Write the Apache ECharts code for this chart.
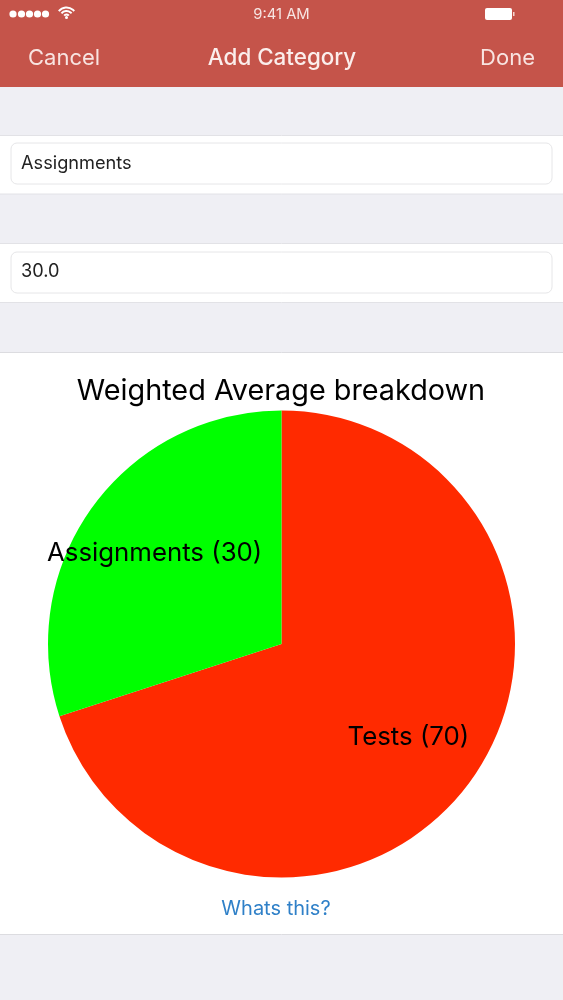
<!DOCTYPE html>
<html><head><meta charset="utf-8">
<style>html,body{margin:0;padding:0;background:#efeff4}#c{width:563px;height:1000px}</style>
<script src="https://cdn.jsdelivr.net/npm/echarts@6/dist/echarts.min.js"></script>
</head><body><div id="c"></div>
<script>
const categories = ['Tests', 'Assignments'];
const values = [70, 30];
const sliceColors = ['#ff2a00', '#00ff00'];
const labelShift = [[30, 23], [-30, -20]];
const chartTitle = 'Weighted Average breakdown';
const F = 'Inter, Roboto, sans-serif';

const txt = (x, y, text, size, fill, align, weight) => ({type:'text', x, y, silent:true,
  style:{text, fontSize:size, fontFamily:F, fill, align:align||'left', verticalAlign:'middle', fontWeight:weight||400}});
const box = (x, y, w, h, fill, stroke, r) => ({type:'rect', silent:true,
  shape:{x, y, width:w, height:h, r:r||0}, style:{fill, stroke:stroke||null, lineWidth:stroke?1:0}});

const ui = [
  box(0,0,563,87,'#c5544a'),
  box(-3,135.5,569,58.5,'#ffffff','#e2e2e6'),
  box(11,143,541,41,'#ffffff','#e6e6e8',6),
  box(-3,243.5,569,59,'#ffffff','#e2e2e6'),
  box(11,252,541,41,'#ffffff','#e6e6e8',6),
  box(-3,352.5,569,582,'#ffffff','#dcdce0'),
  txt(21,164,'Assignments',18.2,'#222222'),
  txt(21,272,'30.0',18.2,'#222222'),
  txt(281.5,15,'9:41 AM',14.8,'#f7e6e3','center'),
  txt(28,58,'Cancel',22,'#f8e4e1'),
  txt(282,58,'Add Category',22.4,'#fbeeec','center',500),
  txt(535,58,'Done',22,'#f8e4e1','right'),
  txt(276,908.5,'Whats this?',20,'#2f80c8','center'),
  box(485,8,27,12,'#ffffff',null,2),
  box(513,12,1.5,4,'#f5d5d0')
];
[13,21.5,29.5,37.5,45.5].forEach(x => ui.push({type:'circle', silent:true, shape:{cx:x,cy:14,r:3.6}, style:{fill:'#ffffff'}}));
[10,6.5,3].forEach(r => ui.push({type:'arc', silent:true,
  shape:{cx:66.5,cy:17.5,r,startAngle:-Math.PI*0.78,endAngle:-Math.PI*0.22},
  style:{stroke:'#fff',fill:null,lineWidth:2}}));
ui.push({type:'circle', silent:true, shape:{cx:66.5,cy:17.5,r:1.5}, style:{fill:'#fff'}});

const chart = echarts.init(document.getElementById('c'), null, {renderer:'canvas'});
chart.setOption({
  animation:false,
  backgroundColor:'#efeff4',
  title:{text:chartTitle, left:276, top:386, textAlign:'center', textVerticalAlign:'middle',
    textStyle:{fontFamily:F, fontSize:28.8, fontWeight:400, color:'#000'}},
  graphic:{elements:ui},
  series:[{
    type:'pie', center:[281.5,644], radius:[0,233.5], startAngle:90, clockwise:true, z:5,
    silent:true,
    itemStyle:{borderWidth:0},
    label:{show:true, position:'inside', fontFamily:F, fontSize:25.8, color:'#000', formatter:p => p.name+' ('+p.value+')'},
    labelLine:{show:false},
    data:categories.map((n,i) => ({name:n, value:values[i], itemStyle:{color:sliceColors[i]},
      label:{offset:labelShift[i]}}))
  }]
});
</script></body></html>
